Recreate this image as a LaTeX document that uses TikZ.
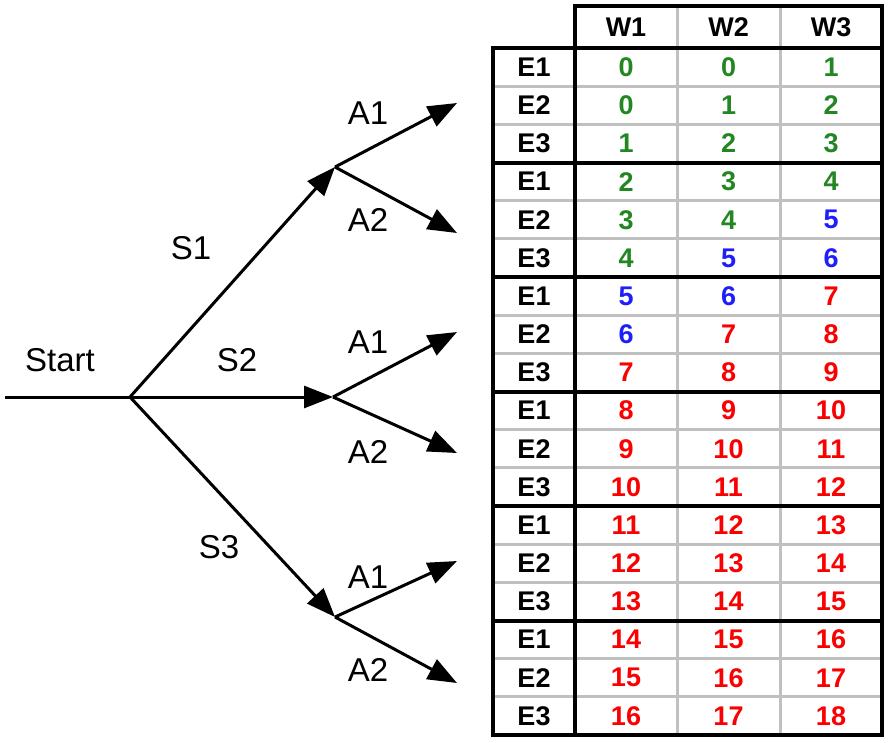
\documentclass[tikz,border=0pt]{standalone}
\usepackage{fontspec}
\setmainfont{Liberation Sans}
\usepackage{xcolor}
\usetikzlibrary{arrows.meta}
\definecolor{valgreen}{RGB}{34,134,34}
\definecolor{valblue}{RGB}{30,30,250}
\definecolor{valred}{RGB}{250,0,0}
\definecolor{gridgray}{RGB}{192,192,192}
\tikzset{
    lbl/.style={font=\fontsize{33}{36}\selectfont, inner sep=0pt},
    cell/.style={font=\fontsize{27}{29}\selectfont\bfseries, inner sep=0pt},
    arrow/.style={-{Triangle[length=29pt, width=22pt]}, line width=3pt},
    plainline/.style={line width=3pt},
    gridline/.style={line width=3pt, gridgray},
    frame/.style={line width=4pt, black},
}

\begin{document}
\begin{tikzpicture}[x=1pt, y=-1pt]
        \useasboundingbox (0,0) rectangle (890,742);
        % decision tree
        \coordinate (start) at (5,397);
        \coordinate (root) at (130,397);
        \coordinate (s1) at (335,167);
        \coordinate (s2) at (333,397);
        \coordinate (s3) at (335,617);
        \coordinate (s1a1) at (457,103);
        \coordinate (s1a2) at (457,233);
        \coordinate (s2a1) at (457,332);
        \coordinate (s2a2) at (457,453);
        \coordinate (s3a1) at (457,561);
        \coordinate (s3a2) at (457,683);
        \draw[plainline] (start) -- (root);
        \draw[arrow] (root) -- (s1);
        \draw[arrow] (root) -- (s2);
        \draw[arrow] (root) -- (s3);
        \foreach \s in {1,2,3} {
            \draw[arrow] (s\s) -- (s\s a1);
            \draw[arrow] (s\s) -- (s\s a2);
        }
        \node[lbl] (startlbl) at (60,360) {Start};
        \node[lbl] (s1lbl) at (191,248) {S1};
        \node[lbl] (s2lbl) at (237,360) {S2};
        \node[lbl] (s3lbl) at (219,547) {S3};
        \node[lbl] (s1a1lbl) at (368,113) {A1};
        \node[lbl] (s1a2lbl) at (368,220) {A2};
        \node[lbl] (s2a1lbl) at (368,342) {A1};
        \node[lbl] (s2a2lbl) at (368,452) {A2};
        \node[lbl] (s3a1lbl) at (368,577) {A1};
        \node[lbl] (s3a2lbl) at (368,670) {A2};

        % table grid
        \foreach \k in {1,...,17}
            \draw[gridline] (493,48+38.17*\k) -- (882,48+38.17*\k);
        \draw[gridline] (677,6) -- (677,735);
        \draw[gridline] (780,6) -- (780,735);
        \draw[frame] (575,6) rectangle (882,48);
        \draw[frame] (493,48) rectangle (882,735);
        \draw[frame] (575,48) -- (575,735);
        \foreach \g in {1,...,5}
            \draw[frame] (493,48+114.5*\g) -- (882,48+114.5*\g);

        % header and cells
        \foreach \c/\x in {1/626,2/728.5,3/831}
            \node[cell] (w\c) at (\x,27) {W\c};
        \foreach \g in {0,...,5} {
            \foreach \r in {0,1,2} {
                \pgfmathsetmacro\ycen{48+38.17*(3*\g+\r+0.5)}
                \pgfmathtruncatemacro\rn{\r+1}
                \node[cell] (e\g\r) at (534,\ycen) {E\rn};
                \foreach \c/\x in {0/626,1/728.5,2/831} {
                    \pgfmathtruncatemacro\v{max(0,3*\g+\r+\c-1)}
                    \node[cell] (v\g\r\c) at (\x,\ycen)
                        {\ifnum\v<5 \color{valgreen}\else\ifnum\v<7 \color{valblue}\else\color{valred}\fi\fi\v};
                }
            }
        }
    \end{tikzpicture}
\end{document}
